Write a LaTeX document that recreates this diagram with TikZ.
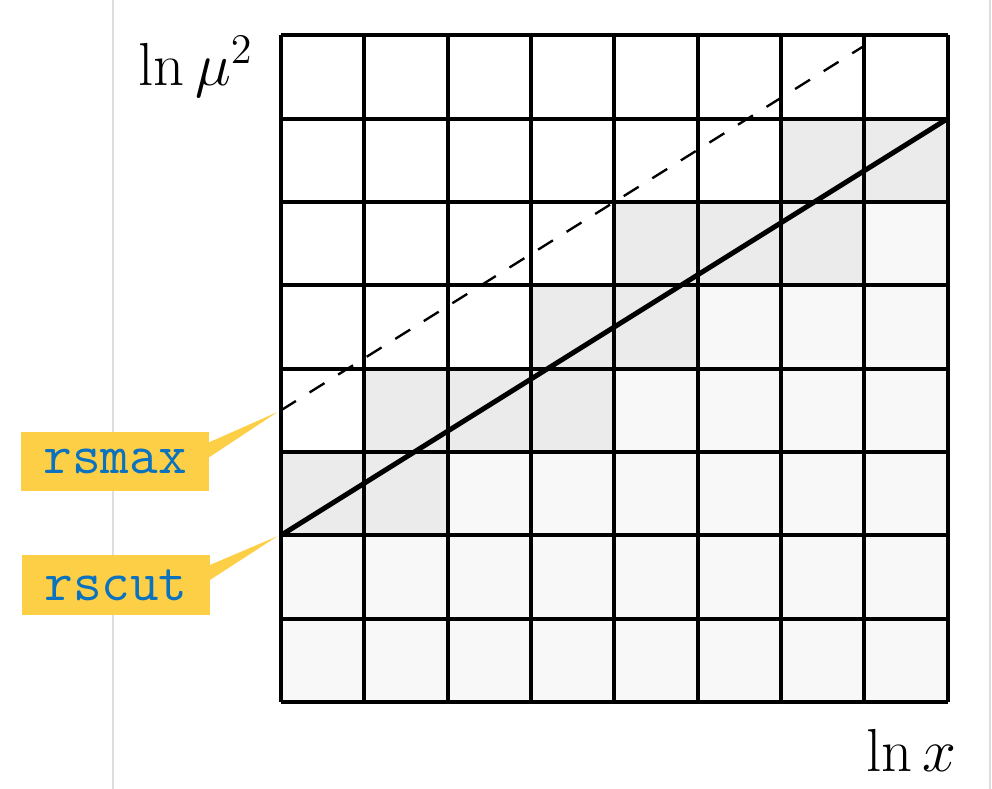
\documentclass[tikz,border=0pt]{standalone}
\usepackage{tikz}
\usetikzlibrary{calc}
\definecolor{celllight}{HTML}{F8F8F8}
\definecolor{celldark}{HTML}{EBEBEB}
\definecolor{tagyellow}{HTML}{FDCF46}
\definecolor{tagblue}{HTML}{0A72BE}
\definecolor{edgegray}{HTML}{DDDDDD}
\begin{document}
\begin{tikzpicture}[
  font=\fontsize{22}{26}\selectfont,
  light/.style={fill=celllight},
  dark/.style={fill=celldark},
  tag/.style={fill=tagyellow,text=tagblue,inner sep=0pt,minimum width=2.26cm,
    minimum height=0.71cm,font=\fontsize{19}{23}\selectfont\ttfamily},
  pointer/.style={fill=tagyellow},
  cutline/.style={line width=1.7pt},
  maxline/.style={line width=0.8pt,dash pattern=on 6pt off 5.5pt}
]
\useasboundingbox (-3.372,-1.044) rectangle (8.532,8.424);
\draw[edgegray,line width=0.6pt] (-2.016,-1.044) -- (-2.016,8.424);
\draw[edgegray,line width=0.6pt] (8.508,-1.044) -- (8.508,8.424);
% shaded cells
\fill[light] (0,0) rectangle (8,2);
\foreach \r/\a/\b in {2/0/2,3/1/4,4/3/5,5/4/7,6/6/8} {
  \fill[dark] (\a,\r) rectangle (\b,\r+1);
  \fill[light] (\b,\r) rectangle (8,\r+1);
}
\draw[line width=1.3pt] (0,0) grid (8,8);
\coordinate (cutstart) at (0,2);
\coordinate (cutend) at (8,7);
\coordinate (maxstart) at (0,3.5);
\coordinate (maxend) at (7,7.875);
\draw[maxline] (maxstart) -- (maxend);
\draw[cutline] (cutstart) -- (cutend);
% axis labels
\node[anchor=base east,inner sep=0pt] (ylab) at (-0.33,7.40) {$\ln\mu^2$};
\node[anchor=base east,inner sep=0pt] (xlab) at (8.11,-0.84) {$\ln x$};
% tags
\node[tag] (rsmax) at (-1.99,2.886) {rsmax};
\node[tag] (rscut) at (-1.98,1.404) {rscut};
\coordinate (rsmaxtip) at (-0.04,3.48);
\coordinate (rscuttip) at (-0.04,1.99);
\fill[pointer] ($(rsmax.east)+(-0.01,0.23)$) -- (rsmaxtip) -- ($(rsmax.east)+(-0.01,0.05)$) -- cycle;
\fill[pointer] ($(rscut.east)+(-0.01,0.24)$) -- (rscuttip) -- ($(rscut.east)+(-0.01,0.06)$) -- cycle;
\end{tikzpicture}
\end{document}
